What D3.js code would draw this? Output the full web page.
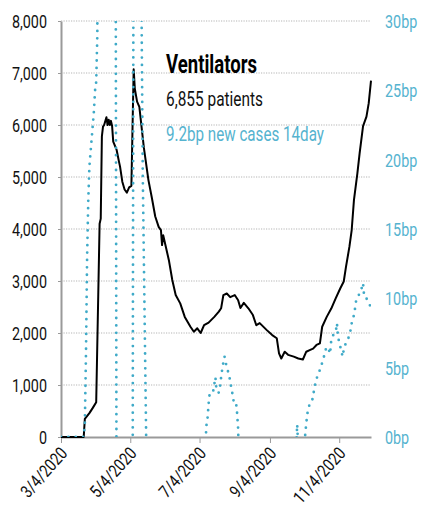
<!DOCTYPE html>
<html>
<head>
<meta charset="utf-8">
<script src="https://cdn.jsdelivr.net/npm/d3@7"></script>
<style>
    body { margin: 0; background: #fff; }
    svg text { font-family: Roboto, "DejaVu Sans Condensed", sans-serif; }
</style>
</head>
<body>
<svg id="chart" width="430" height="520"></svg>
<script>
const ventDates = [
    "2020-03-04", "2020-03-24", "2020-03-25", "2020-03-29", "2020-04-01", "2020-04-04",
    "2020-04-07", "2020-04-08", "2020-04-09", "2020-04-10", "2020-04-11", "2020-04-13",
    "2020-04-14", "2020-04-15", "2020-04-16", "2020-04-17", "2020-04-18", "2020-04-19",
    "2020-04-22", "2020-04-24", "2020-04-25", "2020-04-27", "2020-04-29", "2020-05-01",
    "2020-05-03", "2020-05-05", "2020-05-07", "2020-05-08", "2020-05-10", "2020-05-12",
    "2020-05-16", "2020-05-20", "2020-05-23", "2020-05-26", "2020-05-29", "2020-05-31",
    "2020-06-01", "2020-06-02", "2020-06-07", "2020-06-10", "2020-06-13", "2020-06-17",
    "2020-06-21", "2020-06-26", "2020-06-29", "2020-07-02", "2020-07-05", "2020-07-08",
    "2020-07-12", "2020-07-17", "2020-07-21", "2020-07-23", "2020-07-25", "2020-07-28",
    "2020-07-31", "2020-08-04", "2020-08-07", "2020-08-09", "2020-08-12", "2020-08-16",
    "2020-08-20", "2020-08-23", "2020-08-26", "2020-09-01", "2020-09-06", "2020-09-10",
    "2020-09-12", "2020-09-14", "2020-09-17", "2020-09-20", "2020-09-25", "2020-09-29",
    "2020-10-03", "2020-10-06", "2020-10-09", "2020-10-12", "2020-10-15", "2020-10-18",
    "2020-10-20", "2020-10-24", "2020-10-28", "2020-11-01", "2020-11-05", "2020-11-08",
    "2020-11-10", "2020-11-13", "2020-11-15", "2020-11-17", "2020-11-20", "2020-11-22",
    "2020-11-25", "2020-11-28", "2020-11-30", "2020-12-02"
];
const ventValues = [
    0, 0, 350, 460, 560, 670,
    4100, 4200, 5780, 5970, 6000, 6150,
    6000, 6100, 6000, 6080, 5980, 5680,
    5520, 5300, 5200, 4910, 4760, 4700,
    4800, 4830, 7070, 6700, 6450, 6350,
    5560, 4940, 4600, 4240, 4040, 3980,
    3690, 3880, 3400, 3020, 2730, 2570,
    2310, 2120, 2025, 2090, 2000, 2150,
    2200, 2310, 2410, 2475, 2730, 2760,
    2690, 2730, 2630, 2480, 2580, 2475,
    2345, 2150, 2190, 2060, 1960, 1900,
    1610, 1510, 1640, 1580, 1545, 1510,
    1490, 1640, 1670, 1700, 1770, 1800,
    2120, 2310, 2470, 2670, 2860, 2990,
    3275, 3660, 3980, 4560, 5070, 5460,
    5980, 6160, 6420, 6855
];

// new cases, 14 day, in basis points (runs off the chart in spring)
const caseDates = [
    "2020-03-04", "2020-03-24", "2020-03-25", "2020-03-26", "2020-03-27", "2020-03-28",
    "2020-03-29", "2020-03-31", "2020-04-02", "2020-04-03", "2020-04-04", "2020-04-05",
    "2020-04-06", "2020-04-21", "2020-04-22", "2020-05-06", "2020-05-07", "2020-05-13",
    "2020-05-14", "2020-05-15", "2020-05-18", "2020-05-19", "2020-07-09", "2020-07-10",
    "2020-07-11", "2020-07-12", "2020-07-13", "2020-07-16", "2020-07-18", "2020-07-19",
    "2020-07-21", "2020-07-22", "2020-07-23", "2020-07-24", "2020-07-25", "2020-07-26",
    "2020-07-27", "2020-07-28", "2020-07-30", "2020-07-31", "2020-08-02", "2020-08-03",
    "2020-08-05", "2020-08-06", "2020-08-07", "2020-08-08", "2020-09-26", "2020-09-28",
    "2020-09-30", "2020-10-04", "2020-10-05", "2020-10-06", "2020-10-07", "2020-10-09",
    "2020-10-11", "2020-10-12", "2020-10-13", "2020-10-15", "2020-10-17", "2020-10-19",
    "2020-10-21", "2020-10-23", "2020-10-25", "2020-10-27", "2020-10-28", "2020-10-30",
    "2020-11-01", "2020-11-02", "2020-11-03", "2020-11-05", "2020-11-07", "2020-11-08",
    "2020-11-09", "2020-11-12", "2020-11-14", "2020-11-15", "2020-11-17", "2020-11-18",
    "2020-11-19", "2020-11-21", "2020-11-23", "2020-11-25", "2020-11-26", "2020-11-28",
    "2020-11-30", "2020-12-02"
];
const caseValues = [
    0, 0, 1, 6, 13, 17,
    19.5, 21.5, 23.5, 25, 25.6, 29,
    60, 45, -10, -10, 45, 45,
    30, 19, 0, -5, -1, 0.8,
    1.3, 2.4, 3.2, 3.3, 4.3, 3.3,
    3.2, 3.6, 4.3, 4.9, 5.4, 5.8,
    5.4, 5.0, 4.5, 4.0, 3.1, 2.6,
    2.6, 1.8, 0.6, -3, -3, 0.9,
    -3, -1, 0.1, 1.0, 1.7, 2.4,
    2.6, 2.9, 3.5, 4.2, 4.6, 5.1,
    5.6, 6.3, 6.5, 6.0, 7.0, 7.4,
    7.6, 8.2, 7.2, 6.5, 5.8, 6.3,
    6.6, 7.1, 7.7, 8.2, 8.8, 9.3,
    9.9, 10.2, 10.5, 11.1, 10.1, 10.0,
    9.6, 9.4
];

const leftTicks = [0, 1000, 2000, 3000, 4000, 5000, 6000, 7000, 8000];
const rightTicks = [0, 5, 10, 15, 20, 25, 30];
const dateTicks = ["2020-03-04", "2020-05-04", "2020-07-04", "2020-09-04", "2020-11-04"];

const BLUE = "#3faac8";
const BLUE_TEXT = "#55b3cf";
const AXIS_GREY = "#9a9a9a";
const SQUEEZE = "scale(0.82,1)"; // the original face is a condensed one
const TICK_FONT = "17.5px";

const parse = d3.timeParse("%Y-%m-%d");
const svg = d3.select("#chart");

const plotLeft = 61, plotRight = 371, plotTop = 21, plotBottom = 437;

const x = d3.scaleTime()
    .domain([parse("2020-03-04"), parse("2020-12-02")])
    .range([plotLeft, plotRight]);

const yLeft = d3.scaleLinear().domain([0, 8000]).range([plotBottom, plotTop]);
const yRight = d3.scaleLinear().domain([0, 30]).range([plotBottom, plotTop]);

svg.append("defs").append("clipPath")
    .attr("id", "plot-clip")
    .append("rect")
    .attr("x", plotLeft)
    .attr("y", plotTop)
    .attr("width", plotRight - plotLeft)
    .attr("height", plotBottom - plotTop);

// dotted gridlines
svg.append("g")
    .selectAll("line")
    .data(leftTicks.filter(d => d > 0))
    .join("line")
    .attr("x1", plotLeft)
    .attr("x2", plotRight)
    .attr("y1", d => yLeft(d))
    .attr("y2", d => yLeft(d))
    .attr("stroke", "#b5b5b5")
    .attr("stroke-width", 1.2)
    .attr("stroke-dasharray", "1.2 1.3");

// left axis
const leftAxis = svg.append("g")
    .attr("transform", `translate(${plotLeft},0)`)
    .call(d3.axisLeft(yLeft)
        .tickValues(leftTicks)
        .tickFormat(d3.format(","))
        .tickSize(3)
        .tickSizeOuter(0));

leftAxis.select(".domain").attr("stroke", AXIS_GREY).attr("stroke-width", 2);
leftAxis.selectAll(".tick line").attr("stroke", AXIS_GREY);
leftAxis.selectAll("text")
    .attr("fill", "#111")
    .attr("x", 0)
    .attr("transform", `translate(-14,1) ${SQUEEZE}`)
    .style("font-size", TICK_FONT);

// right axis
const rightAxis = svg.append("g")
    .attr("transform", `translate(${plotRight},0)`)
    .call(d3.axisRight(yRight)
        .tickValues(rightTicks)
        .tickFormat(d => d + "bp")
        .tickSize(0));

rightAxis.select(".domain").remove();
rightAxis.selectAll("text")
    .attr("fill", BLUE_TEXT)
    .attr("x", 0)
    .attr("transform", `translate(14,1) ${SQUEEZE}`)
    .style("font-size", TICK_FONT);

// bottom axis
const xAxis = svg.append("g")
    .attr("transform", `translate(0,${plotBottom})`)
    .call(d3.axisBottom(x)
        .tickValues(dateTicks.map(parse))
        .tickFormat(d3.timeFormat("%-m/%-d/%Y"))
        .tickSize(6)
        .tickSizeOuter(0));

xAxis.select(".domain").attr("stroke", AXIS_GREY).attr("stroke-width", 2);
xAxis.selectAll(".tick line").attr("stroke", AXIS_GREY);
xAxis.selectAll("text")
    .attr("fill", "#111")
    .style("font-size", TICK_FONT)
    .attr("text-anchor", "end")
    .attr("x", 0)
    .attr("y", 0)
    .attr("dy", null)
    .attr("transform", `translate(7,17) rotate(-48) ${SQUEEZE}`);

// ventilators (black)
const ventData = ventDates.map((d, i) => ({ date: parse(d), value: ventValues[i] }));

svg.append("path")
    .datum(ventData)
    .attr("fill", "none")
    .attr("stroke", "#000")
    .attr("stroke-width", 2)
    .attr("stroke-linejoin", "round")
    .attr("d", d3.line()
        .x(d => x(d.date))
        .y(d => yLeft(d.value)));

// new cases (blue dots)
const caseData = caseDates.map((d, i) => ({ date: parse(d), value: caseValues[i] }));

svg.append("path")
    .datum(caseData)
    .attr("clip-path", "url(#plot-clip)")
    .attr("fill", "none")
    .attr("stroke", BLUE)
    .attr("stroke-width", 2.8)
    .attr("stroke-linecap", "round")
    .attr("stroke-dasharray", "0 7.4")
    .attr("d", d3.line()
        .x(d => x(d.date))
        .y(d => yRight(d.value)));

// labels
const labels = svg.append("g").attr("transform", "translate(166,0)");

labels.append("text")
    .attr("y", 73)
    .attr("font-weight", "bold")
    .attr("fill", "#000")
    .attr("textLength", 91)
    .attr("lengthAdjust", "spacingAndGlyphs")
    .style("font-size", "25px")
    .text("Ventilators");

labels.append("text")
    .attr("y", 106)
    .attr("fill", "#111")
    .attr("textLength", 97)
    .attr("lengthAdjust", "spacingAndGlyphs")
    .style("font-size", "20.5px")
    .text("6,855 patients");

labels.append("text")
    .attr("y", 141)
    .attr("fill", BLUE_TEXT)
    .attr("textLength", 158)
    .attr("lengthAdjust", "spacingAndGlyphs")
    .style("font-size", "20px")
    .text("9.2bp new cases 14day");
</script>
</body>
</html>
